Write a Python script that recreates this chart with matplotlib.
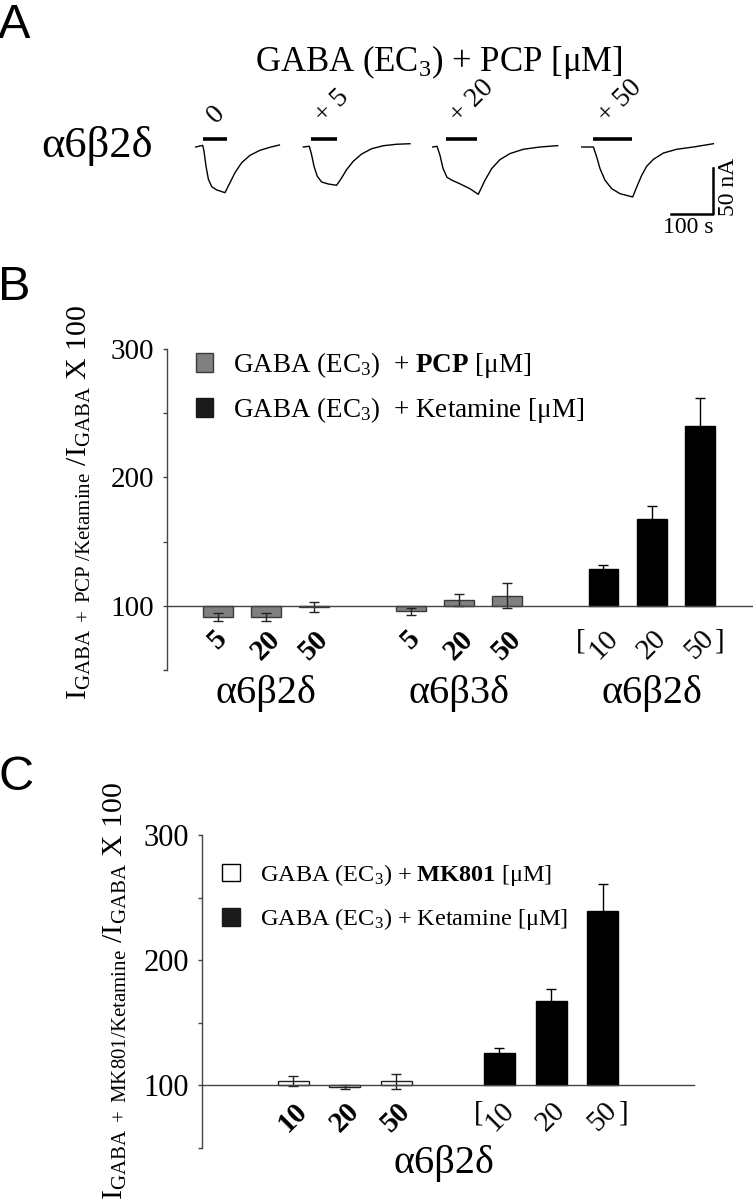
import numpy as np
import matplotlib
matplotlib.use('Agg')
import matplotlib.pyplot as plt
from matplotlib.patches import Patch

plt.rcParams['font.family'] = ['Liberation Serif', 'DejaVu Serif']
plt.rcParams['mathtext.fontset'] = 'custom'
plt.rcParams['mathtext.rm'] = 'Liberation Serif'
plt.rcParams['mathtext.it'] = 'Liberation Serif:italic'
plt.rcParams['mathtext.bf'] = 'Liberation Serif:bold'

W, H = 753, 1199

# Panel A: example currents, time (s) and current (nA) relative to baseline
trace_labels = ['0', '+ 5', '+ 20', '+ 50']
trace_t = [
    [0, 16.4, 19.4, 24.1, 29.7, 37.5, 49.2, 68.6, 80.3, 92.0, 107.7, 127.2, 150.6, 174.0, 196.0],
    [0, 14.1, 19.4, 25.1, 32.8, 42.9, 58.5, 78.0, 89.7, 101.4, 117.1, 136.5, 160.0, 187.4, 218.5, 249.9],
    [0, 10.1, 17.1, 24.1, 33.5, 45.2, 63.9, 87.4, 106.8, 122.5, 138.2, 157.6, 181.0, 212.2, 251.3, 292.7],
    [0, 27.4, 35.1, 42.9, 54.6, 70.3, 89.7, 119.4, 128.8, 140.5, 152.2, 167.9, 191.3, 222.5, 261.6, 308.4],
]
trace_i = [
    [0, 1.8, -4.4, -20.8, -35.3, -43.4, -47.0, -50.0, -39.1, -28.1, -17.2, -9.1, -3.6, -0.3, 2.2],
    [0, 0.8, -8.4, -21.1, -32.1, -38.3, -40.5, -41.9, -33.9, -24.8, -15.6, -7.7, -1.9, 1.4, 3.0, 3.6],
    [0, 0.8, -9.1, -23.3, -33.2, -36.4, -40.3, -45.7, -51.8, -36.4, -23.6, -13.8, -7.2, -2.5, 0, 1.5],
    [0, 0, -10.9, -23.7, -36.4, -45.6, -51.1, -54.7, -43.8, -31.0, -21.1, -13.5, -6.6, -2.5, 0, 3.6],
]
app_on = [16.4, 18.0, 31.1, 27.2]
app_off = [72.6, 79.6, 103.7, 118.5]

# Panel B: I(GABA + drug) / I(GABA) x 100
pcp_doses = ['5', '20', '50']
pcp_a6b2d = [91.2, 91.2, 98.8]
pcp_a6b2d_err = [3.4, 3.4, 4.0]
pcp_a6b3d = [95.6, 104.6, 108.0]
pcp_a6b3d_err = [3.0, 4.6, 9.6]
ket_doses = ['10', '20', '50']
ket_b = [128.3, 167.7, 240.3]
ket_b_err = [3.6, 9.7, 21.2]

# Panel C
mk_doses = ['10', '20', '50']
mk_a6b2d = [103.5, 98.5, 103.0]
mk_err = [4.2, 1.5, 6.0]
ket_c = [126.0, 167.0, 239.5]
ket_c_err = [4.0, 9.8, 21.5]

fig = plt.figure(figsize=(W / 100, H / 100), dpi=100)


def fx(x):
    return x / W


def fy(y):
    return 1 - y / H


# panel letters
for letter, ytop in [('A', 3), ('B', 265), ('C', 755)]:
    fig.text(fx(-2), fy(ytop), letter, family='Liberation Sans', fontsize=35,
             ha='left', va='top')

# ---------------- panel A ----------------
axA = fig.add_axes([0, fy(240), 1, 150 / H])
axA.set_xlim(0, W / 0.427)
axA.set_ylim(-93 / 0.9135, 57 / 0.9135)
axA.axis('off')

trace_start = [458.3, 710.3, 1013.3, 1362.3]
for k in range(4):
    t0 = trace_start[k]
    axA.plot(t0 + np.array(trace_t[k]), trace_i[k], color='black', lw=1.0)
    axA.plot([t0 + app_on[k], t0 + app_off[k]], [9.1, 9.1], color='black',
             lw=2.6, solid_capstyle='butt')
    axA.text(t0 + app_on[k], 20.5, trace_labels[k], rotation=45, fontsize=20,
             ha='left', va='bottom')

# scale bar 100 s / 50 nA
axA.plot([1570.5, 1670.5, 1670.5], [-73.3, -73.3, -23.3], color='black', lw=1.8)
axA.text(1611, -88.6, '100 s', fontsize=17, ha='center', va='center')
axA.text(1706, -43.4, '50 nA', fontsize=17, rotation=90, ha='center', va='center')

fig.text(fx(439), fy(62), 'GABA (EC$_3$) + PCP [μM]', fontsize=25,
         ha='center', va='center')
fig.text(fx(97), fy(146), 'α6β2δ', fontsize=32, ha='center', va='center')


def style_axis(ax, tick_size, pad_x):
    ax.set_ylim(50, 300)
    for s in ['top', 'right']:
        ax.spines[s].set_visible(False)
    ax.spines['bottom'].set_position(('data', 100))
    for s in ['left', 'bottom']:
        ax.spines[s].set_color('#444444')
        ax.spines[s].set_linewidth(1.0)
    ax.set_yticks([100, 200, 300])
    ax.set_yticks([50, 150, 250], minor=True)
    ax.tick_params(axis='y', which='both', direction='out', length=3, width=1,
                   color='#444444', labelsize=tick_size, pad=6)
    ax.tick_params(axis='x', length=0, pad=pad_x, labelsize=21, labelrotation=45)


err_grey = dict(elinewidth=1, ecolor='#222222', capthick=1)
err_black = dict(elinewidth=1, ecolor='black', capthick=1)

# ---------------- panel B ----------------
axB = fig.add_axes([fx(167), fy(670), 586 / W, 321 / H])
pos1 = np.array([0, 1, 2])
pos2 = np.array([4, 5, 6])
pos3 = np.array([8, 9, 10])
axB.bar(pos1, np.array(pcp_a6b2d) - 100, bottom=100, width=0.62, color='#808080',
        edgecolor='#3a3a3a', lw=1, yerr=pcp_a6b2d_err, capsize=3.5, error_kw=err_grey)
axB.bar(pos2, np.array(pcp_a6b3d) - 100, bottom=100, width=0.62, color='#808080',
        edgecolor='#3a3a3a', lw=1, yerr=pcp_a6b3d_err, capsize=3.5, error_kw=err_grey)
axB.bar(pos3, np.array(ket_b) - 100, bottom=100, width=0.62, color='black',
        edgecolor='black', lw=1, yerr=ket_b_err, capsize=3.5, error_kw=err_black)
axB.set_xlim(-1.05, 11.1)
style_axis(axB, 21, 14)
axB.set_xticks(np.concatenate([pos1, pos2, pos3]), pcp_doses + pcp_doses + ket_doses)
for lbl in axB.get_xticklabels()[:6]:
    lbl.set_fontweight('bold')
axB.text(7.52, 72, '[', fontsize=21, ha='center', va='center')
axB.text(10.41, 72, ']', fontsize=21, ha='center', va='center')
for xc, name in [(1, 'α6β2δ'), (5, 'α6β3δ'), (9, 'α6β2δ')]:
    axB.text(xc, 31.5, name, fontsize=29, ha='center', va='center', clip_on=False)

handlesB = [Patch(facecolor='#808080', edgecolor='#3a3a3a'),
            Patch(facecolor='#1a1a1a', edgecolor='#1a1a1a')]
labelsB = [r'GABA (EC$_3$)  + $\mathbf{PCP}$ [μM]', r'GABA (EC$_3$)  + Ketamine [μM]']
axB.legend(handlesB, labelsB, loc='upper left', bbox_to_anchor=(fx(196), fy(350)),
           bbox_transform=fig.transFigure, frameon=False, fontsize=19.5,
           handlelength=0.63, handleheight=0.7, handletextpad=0.74,
           labelspacing=0.55, borderpad=0, borderaxespad=0)

fig.text(fx(79), fy(502),
         r'I$_{\mathrm{GABA\ +\ PCP\ /Ketamine}}$ /I$_{\mathrm{GABA}}$ X 100',
         fontsize=21.5, rotation=90, ha='center', va='center')

# ---------------- panel C ----------------
axC = fig.add_axes([fx(201.7), fy(1147.7), 492.3 / W, 312.7 / H])
posm = np.array([0, 1, 2])
posk = np.array([4, 5, 6])
axC.bar(posm, np.array(mk_a6b2d) - 100, bottom=100, width=0.6, color='white',
        edgecolor='#222222', lw=1, yerr=mk_err, capsize=3.5, error_kw=err_grey)
axC.bar(posk, np.array(ket_c) - 100, bottom=100, width=0.6, color='black',
        edgecolor='black', lw=1, yerr=ket_c_err, capsize=3.5, error_kw=err_black)
axC.set_xlim(-1.77, 7.77)
style_axis(axC, 22, 9)
axC.set_xticks(np.concatenate([posm, posk]), mk_doses + ket_doses)
for lbl in axC.get_xticklabels()[:3]:
    lbl.set_fontweight('bold')
axC.text(3.59, 77.6, '[', fontsize=21, ha='center', va='center')
axC.text(6.4, 77.6, ']', fontsize=21, ha='center', va='center')
axC.text(2.93, 37.6, 'α6β2δ', fontsize=29, ha='center', va='center', clip_on=False)

handlesC = [Patch(facecolor='white', edgecolor='black'),
            Patch(facecolor='#1a1a1a', edgecolor='#1a1a1a')]
labelsC = [r'GABA (EC$_3$) + $\mathbf{MK801}$ [μM]', r'GABA (EC$_3$) + Ketamine [μM]']
axC.legend(handlesC, labelsC, loc='upper left', bbox_to_anchor=(fx(221.7), fy(862)),
           bbox_transform=fig.transFigure, frameon=False, fontsize=17.5,
           handlelength=0.75, handleheight=0.75, handletextpad=0.82,
           labelspacing=0.75, borderpad=0, borderaxespad=0)

fig.text(fx(115), fy(991),
         r'I$_{\mathrm{GABA\ +\ MK801/Ketamine}}$ /I$_{\mathrm{GABA}}$ X 100',
         fontsize=21.5, rotation=90, ha='center', va='center')

fig.savefig('out.png', dpi=100)
